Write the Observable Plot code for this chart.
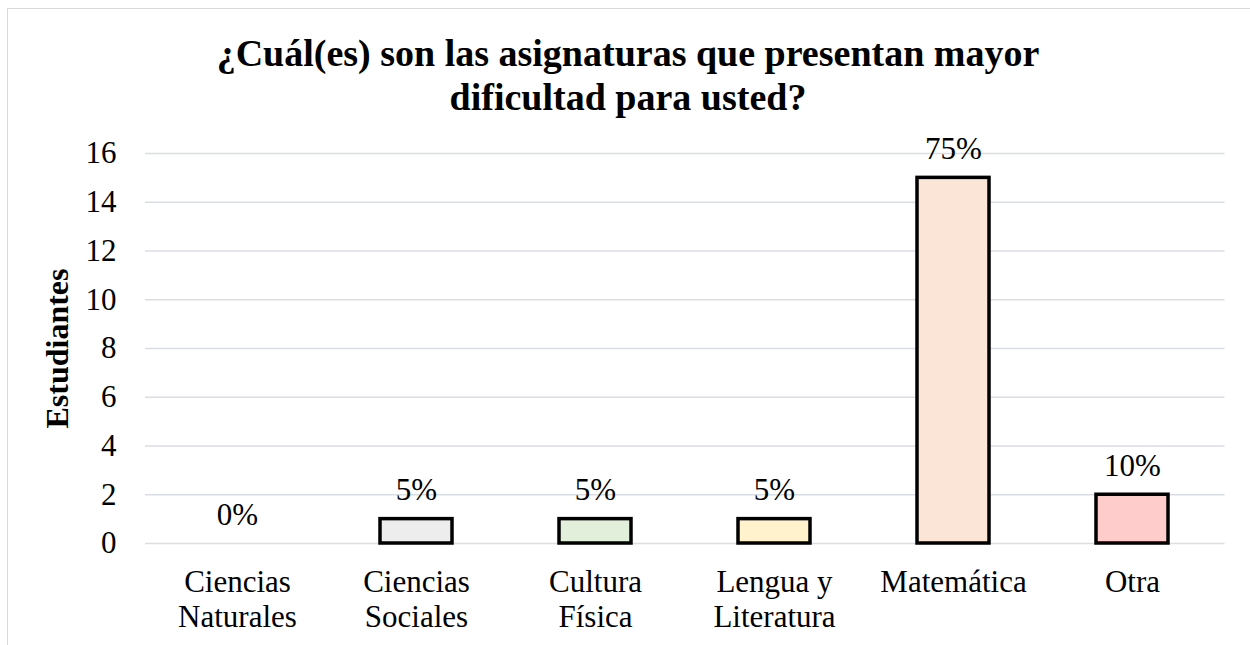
<!DOCTYPE html>
<html>
<head>
<meta charset="utf-8">
<script src="https://cdn.jsdelivr.net/npm/d3@7"></script>
<script src="https://cdn.jsdelivr.net/npm/@observablehq/plot@0.6"></script>
<style>
  html, body { margin: 0; padding: 0; background: #fff; overflow: hidden; }
  body { width: 1250px; height: 645px; position: relative; font-family: "Liberation Serif", "Times New Roman", serif; }
  #frame { position: absolute; left: 7px; top: 8px; width: 1270px; height: 700px; border: 1.5px solid #d9d9d9; box-sizing: border-box; }
  #title { position: absolute; left: 0; top: 31px; width: 1256px; text-align: center; font-weight: bold; font-size: 38px; line-height: 44px; color: #000; }
  #chart { position: absolute; left: 0; top: 130px; }
</style>
</head>
<body>
<div id="frame"></div>
<div id="title">¿Cuál(es) son las asignaturas que presentan mayor<br>dificultad para usted?</div>
<div id="chart"></div>
<script>
const categories = ["Ciencias\nNaturales", "Ciencias\nSociales", "Cultura\nFísica", "Lengua y\nLiteratura", "Matemática", "Otra"];
const students = [0, 1, 1, 1, 15, 2];
const percentLabels = ["0%", "5%", "5%", "5%", "75%", "10%"];
const barColors = ["#deebf7", "#ededed", "#e2efda", "#fff2cc", "#fbe5d6", "#ffcccc"];
const yTicks = [0, 2, 4, 6, 8, 10, 12, 14, 16];
const yLabel = "Estudiantes";

const data = categories.map((c, i) => ({cat: c, value: students[i], pct: percentLabels[i], color: barColors[i]}));

const chart = Plot.plot({
  width: 1250,
  height: 515,
  marginLeft: 145,
  marginRight: 25.5,
  marginTop: 23,
  marginBottom: 102,
  style: {fontFamily: "'Liberation Serif', 'Times New Roman', serif", fontSize: "31px", color: "#000", background: "transparent"},
  x: {domain: categories, paddingInner: 0.6, paddingOuter: 0.3, label: null},
  y: {domain: [0, 16], ticks: yTicks, label: null},
  color: {type: "identity"},
  marks: [
    Plot.gridY(yTicks, {stroke: "#d9dde4", strokeOpacity: 1, strokeWidth: 1.5}),
    Plot.barY(data.filter(d => d.value > 0), {x: "cat", y: "value", fill: "color", stroke: "#000", strokeWidth: 3.5}),
    Plot.text(data, {x: "cat", y: "value", text: "pct", lineAnchor: "bottom", dy: -19, fontSize: 31, fill: "#000"}),
    Plot.axisY(yTicks, {tickSize: 0, tickPadding: 29, fontSize: 31, label: null}),
    Plot.axisX({tickSize: 0, tickPadding: 24, fontSize: 31, lineHeight: 1.13, label: null}),
    Plot.text([yLabel], {frameAnchor: "left", text: d => d, rotate: -90, dx: -78, textAnchor: "middle", lineAnchor: "bottom", fontWeight: "bold", fontSize: 32, fill: "#000"})
  ]
});
document.getElementById("chart").appendChild(chart);
</script>
</body>
</html>
